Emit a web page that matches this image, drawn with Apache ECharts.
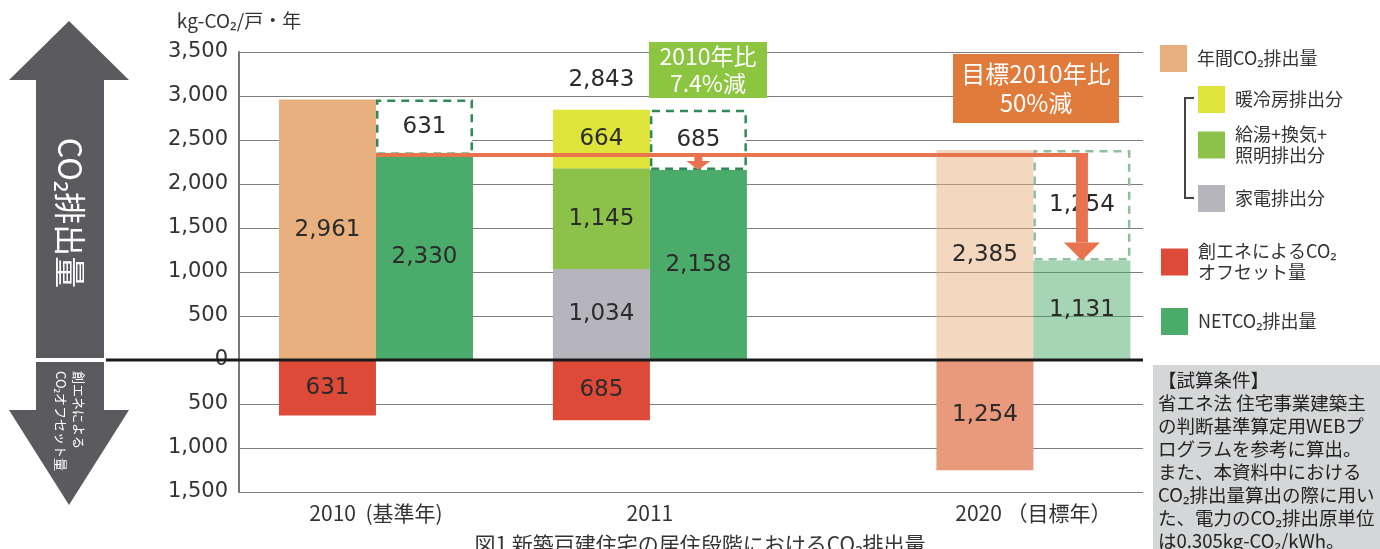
<!DOCTYPE html>
<html lang="ja">
<head>
<meta charset="UTF-8">
<title>CO2排出量</title>
<style>
    html, body { margin: 0; padding: 0; background: #fff; }
    #main { width: 1380px; height: 549px; }
</style>
</head>
<body>
<div id="main"></div>
<script src="https://cdn.jsdelivr.net/npm/echarts@6.0.0/dist/echarts.min.js"></script>
<script>
    // data (kg-CO2/戸・年)
    var years = ['2010  (基準年)', '2011', '2020 （目標年）'];
    var annual = [2961, 0, 2385];
    var appliance = [0, 1034, 0];
    var hotWater = [0, 1145, 0];
    var cooling = [0, 664, 0];
    var offset = [-631, -685, -1254];
    var net = [2330, 2158, 1131];
    var reduction = [631, 685, 1254];

    // layout: where each year sits on a hidden 0..33 x scale
    var SLOTS = [5, 15, 29];
    var BAR_W = 97;
    var FONT = '"Noto Sans CJK JP", "Noto Sans", sans-serif';
    var NUM_FONT = '"DejaVu Sans", "Noto Sans CJK JP", sans-serif';
    var TARGET = 2; // 2020 bars are drawn faded

    var totals = annual.map(function (a, i) {
        return a + appliance[i] + hotWater[i] + cooling[i];
    });

    // value first, x slot second (stacking runs on the first value dimension)
    function pts (values, targetStyle) {
        return values.map(function (v, i) {
            var item = {value: [v, SLOTS[i]]};
            if (i === TARGET && targetStyle) {
                item.itemStyle = targetStyle;
            }
            return item;
        });
    }

    function numLabel (p) {
        var v = Math.abs(p.value[0]);
        return v ? v.toLocaleString('en-US') : '';
    }

    var inLabel = {
        show: true,
        position: 'inside',
        fontSize: 23,
        color: '#2b2b2b',
        fontFamily: NUM_FONT,
        formatter: numLabel
    };

    function bar (name, stack, data, color, extra) {
        var s = {
            name: name,
            type: 'bar',
            stack: stack,
            encode: {x: 1, y: 0},
            barWidth: BAR_W,
            barGap: '0%',
            data: data,
            itemStyle: {color: color},
            label: inLabel,
            emphasis: {disabled: true}
        };
        for (var k in extra) s[k] = extra[k];
        return s;
    }

    function legendAt (name, left, top) {
        return {
            data: [name],
            left: left,
            top: top,
            padding: 0,
            icon: 'rect',
            itemWidth: 27,
            itemHeight: 27,
            selectedMode: false,
            formatter: function (n) {
                return n.replace('給湯+換気+', '給湯+換気+\n').replace('CO₂オフ', 'CO₂\nオフ');
            },
            textStyle: {fontSize: 18, color: '#333', fontFamily: FONT, lineHeight: 21, padding: [0, 0, 0, 5]}
        };
    }

    var option = {
        animation: false,
        backgroundColor: '#fff',
        grid: {left: 239, right: 237, top: 52, bottom: 57},
        legend: [
            legendAt('年間CO₂排出量', 1160, 45),
            legendAt('暖冷房排出分', 1198, 86),
            legendAt('給湯+換気+照明排出分', 1198, 124),
            legendAt('家電排出分', 1198, 185),
            legendAt('創エネによるCO₂オフセット量', 1161, 241),
            legendAt('NETCO₂排出量', 1161, 308)
        ],
        xAxis: {
            type: 'value',
            min: 0,
            max: 33,
            interval: 1,
            axisLine: {show: false, onZero: false},
            axisTick: {show: false},
            splitLine: {show: false},
            axisLabel: {
                margin: 11,
                fontSize: 21,
                color: '#333',
                fontFamily: FONT,
                formatter: function (v) {
                    var i = SLOTS.indexOf(v);
                    return i < 0 ? '' : years[i];
                }
            }
        },
        yAxis: {
            type: 'value',
            min: -1500,
            max: 3500,
            interval: 500,
            name: 'kg-CO₂/戸・年',
            nameLocation: 'end',
            nameGap: 22,
            nameTextStyle: {fontSize: 19, color: '#333', fontFamily: FONT, align: 'center'},
            axisLine: {show: true, lineStyle: {color: '#777', width: 2}},
            axisTick: {show: false},
            splitLine: {lineStyle: {color: '#7d7d7d', width: 1.2}},
            axisLabel: {
                margin: 11,
                fontSize: 21,
                color: '#333',
                fontFamily: NUM_FONT,
                formatter: function (v) { return Math.abs(v).toLocaleString('en-US'); }
            }
        },
        series: [
            bar('年間CO₂排出量', 'L', pts(annual, {color: 'rgba(232,176,126,0.5)'}), '#e8b07e'),
            bar('家電排出分', 'L', pts(appliance), '#b5b5bb'),
            bar('給湯+換気+照明排出分', 'L', pts(hotWater), '#8cc24a'),
            bar('暖冷房排出分', 'L', pts(cooling), '#dfe43a'),
            bar('total', 'L', pts([0, 0, 0]), 'transparent', {
                label: {
                    show: true,
                    position: 'top',
                    distance: 18,
                    fontSize: 23,
                    color: '#2b2b2b',
                    fontFamily: NUM_FONT,
                    formatter: function (p) {
                        var i = p.dataIndex;
                        return appliance[i] ? totals[i].toLocaleString('en-US') : '';
                    }
                }
            }),
            bar('創エネによるCO₂オフセット量', 'L', pts(offset, {color: '#e9997c'}), '#de4a38'),
            bar('NETCO₂排出量', 'R', pts(net, {color: 'rgba(75,171,107,0.5)'}), '#4bab6b'),
            bar('reduction', 'R', pts(reduction, {color: 'rgba(255,255,255,0)', borderColor: '#8fc09c'}), '#fff', {
                itemStyle: {color: '#fff', borderColor: '#2f8a55', borderWidth: 2.5, borderType: [8, 6]}
            })
        ]
    };

    var chart = echarts.init(document.getElementById('main'));
    chart.setOption(option);

    function px (x, y) {
        return chart.convertToPixel({xAxisIndex: 0, yAxisIndex: 0}, [x, y]);
    }

    var half = BAR_W / 2;
    var y0 = px(0, 0)[1];
    var gridRight = px(33, 0)[0];
    var start = px(SLOTS[0], net[0]);
    var endX = px(SLOTS[2], 0)[0] + half;
    var tipY = px(SLOTS[2], net[2])[1];
    var smallX = px(SLOTS[1], 0)[0] + half;
    var smallTip = px(SLOTS[1], net[1])[1];
    var RED = '#e8734f';
    var ARROW = '#5b5b5f';

    var note = [
        '【試算条件】',
        '省エネ法 住宅事業建築主',
        'の判断基準算定用WEBプ',
        'ログラムを参考に算出。',
        'また、本資料中における',
        'CO₂排出量算出の際に用い',
        'た、電力のCO₂排出原単位',
        'は0.305kg-CO₂/kWh。'
    ].join('\n');

    chart.setOption({
        graphic: [
            // left double arrow
            {type: 'polygon', z: 100, shape: {points: [[69, 21], [129, 80], [104, 80], [104, y0 - 2], [36, y0 - 2], [36, 80], [9, 80]]}, style: {fill: ARROW}},
            {type: 'polygon', z: 100, shape: {points: [[36, y0 + 2], [104, y0 + 2], [104, 410], [129, 410], [69, 505], [9, 410], [36, 410]]}, style: {fill: ARROW}},
            {type: 'text', z: 101, x: 70, y: 213, rotation: -Math.PI / 2, style: {text: 'CO₂排出量', fill: '#fff', fontSize: 32, fontFamily: FONT, align: 'center', verticalAlign: 'middle'}},
            {type: 'text', z: 101, x: 70, y: 371, rotation: -Math.PI / 2, style: {text: '創エネによる\nCO₂オフセット量', fill: '#fff', fontSize: 13, lineHeight: 18, fontFamily: FONT, align: 'left', verticalAlign: 'middle'}},
            // zero line
            {type: 'line', z: 100, shape: {x1: 106, y1: y0, x2: gridRight, y2: y0}, style: {stroke: '#1a1a1a', lineWidth: 3}},
            // reduction arrows
            {type: 'line', z: 100, shape: {x1: start[0], y1: start[1], x2: endX + 6, y2: start[1]}, style: {stroke: RED, lineWidth: 4}},
            {type: 'rect', z: 100, shape: {x: endX - 6, y: start[1] - 2, width: 12, height: tipY - 18 - start[1] + 2}, style: {fill: RED}},
            {type: 'polygon', z: 100, shape: {points: [[endX - 18, tipY - 18], [endX + 18, tipY - 18], [endX, tipY]]}, style: {fill: RED}},
            {type: 'rect', z: 100, shape: {x: smallX - 4, y: start[1], width: 8, height: smallTip - 9 - start[1]}, style: {fill: RED}},
            {type: 'polygon', z: 100, shape: {points: [[smallX - 12, smallTip - 9], [smallX + 12, smallTip - 9], [smallX, smallTip]]}, style: {fill: RED}},
            // callouts
            {type: 'rect', z: 100, shape: {x: 649, y: 42, width: 118, height: 56}, style: {fill: '#8cc540'}},
            {type: 'text', z: 101, x: 708, y: 70, style: {text: '2010年比\n7.4%減', fill: '#fff', fontSize: 23, lineHeight: 27, fontFamily: FONT, align: 'center', verticalAlign: 'middle'}},
            {type: 'rect', z: 100, shape: {x: 953, y: 54, width: 166, height: 69}, style: {fill: '#e07b3b'}},
            {type: 'text', z: 101, x: 1036, y: 88, style: {text: '目標2010年比\n50%減', fill: '#fff', fontSize: 24, lineHeight: 29, fontFamily: FONT, align: 'center', verticalAlign: 'middle'}},
            // legend bracket
            {type: 'polyline', z: 100, shape: {points: [[1194, 98], [1185, 98], [1185, 198], [1194, 198]]}, style: {stroke: '#444', lineWidth: 2, fill: null}},
            // note box
            {type: 'rect', z: 100, shape: {x: 1153, y: 365, width: 227, height: 184}, style: {fill: '#d4d6d8'}},
            {type: 'text', z: 101, x: 1158, y: 368, style: {text: note, fill: '#222', fontSize: 18.5, lineHeight: 23, fontFamily: FONT, align: 'left', verticalAlign: 'top'}},
            // caption (cut off at the bottom edge)
            {type: 'text', z: 101, x: 700, y: 534, style: {text: '図1 新築戸建住宅の居住段階におけるCO₂排出量', fill: '#333', fontSize: 21, fontFamily: FONT, align: 'center', verticalAlign: 'top'}}
        ]
    });
</script>
</body>
</html>
